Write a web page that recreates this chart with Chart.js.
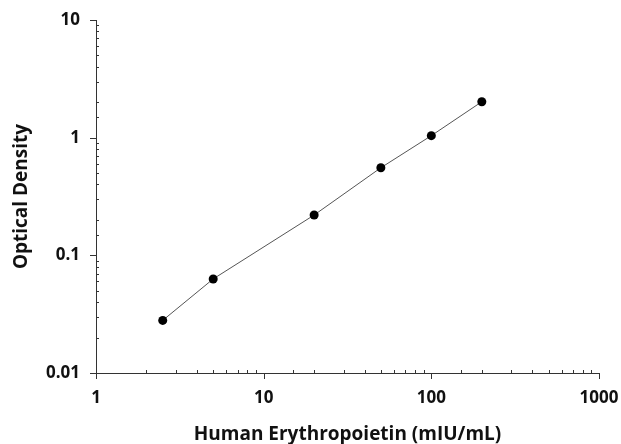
<!DOCTYPE html>
<html>
<head>
<meta charset="utf-8">
<script src="https://cdn.jsdelivr.net/npm/chart.js@4.4.1/dist/chart.umd.min.js"></script>
<style>
  body { margin: 0; background: #fff; }
  #wrap { width: 621px; height: 444px; }
</style>
</head>
<body>
<div id="wrap"><canvas id="od-chart"></canvas></div>
<script>
  // standard curve data
  const concentration = [2.5, 5, 20, 50, 100, 200];
  const opticalDensity = [0.028, 0.063, 0.22, 0.555, 1.04, 2.02];

  const xTitle = 'Human Erythropoietin (mIU/mL)';
  const yTitle = 'Optical Density';

  const isDecade = function(v) {
    const l = Math.log10(v);
    return Math.abs(l - Math.round(l)) < 1e-9;
  };

  // major ticks outside, minor ticks inside
  const logTicks = {
    id: 'logTicks',
    afterDraw(chart) {
      const ctx = chart.ctx;
      const xs = chart.scales.x;
      const ys = chart.scales.y;
      ctx.save();
      ctx.strokeStyle = '#333';
      ctx.lineWidth = 1;
      ctx.beginPath();
      xs.ticks.forEach(function(t) {
        const px = Math.round(xs.getPixelForValue(t.value)) + 0.5;
        const y0 = xs.top;
        if (isDecade(t.value)) {
          ctx.moveTo(px, y0); ctx.lineTo(px, y0 + 6);
        } else {
          ctx.moveTo(px, y0); ctx.lineTo(px, y0 - 3);
        }
      });
      ys.ticks.forEach(function(t) {
        const py = Math.round(ys.getPixelForValue(t.value)) + 0.5;
        const x0 = ys.right;
        if (isDecade(t.value)) {
          ctx.moveTo(x0, py); ctx.lineTo(x0 - 6, py);
        } else {
          ctx.moveTo(x0, py); ctx.lineTo(x0 + 3, py);
        }
      });
      ctx.stroke();
      ctx.restore();
    }
  };

  const tickFont = { family: 'Open Sans', size: 17, weight: 'bold' };
  const titleFont = { family: 'Open Sans', size: 19, weight: 'bold', lineHeight: 1 };

  new Chart(document.getElementById('od-chart'), {
    type: 'scatter',
    data: {
      datasets: [{
        label: 'EPO',
        data: concentration.map(function(c, i) { return { x: c, y: opticalDensity[i] }; }),
        showLine: true,
        borderColor: '#555',
        borderWidth: 1,
        backgroundColor: '#000',
        pointBackgroundColor: '#000',
        pointBorderWidth: 0,
        pointRadius: 4.5
      }]
    },
    options: {
      responsive: true,
      maintainAspectRatio: false,
      animation: false,
      layout: { padding: { top: 20, right: 22, bottom: 0, left: 0 } },
      plugins: {
        legend: { display: false },
        tooltip: { enabled: false }
      },
      scales: {
        x: {
          type: 'logarithmic',
          min: 1,
          max: 1000,
          grid: { display: false, drawTicks: false },
          border: { display: true, color: '#333', width: 1 },
          ticks: {
            autoSkip: false,
            maxRotation: 0,
            padding: 15,
            color: '#111',
            font: tickFont,
            callback: function(v) { return isDecade(v) ? String(v) : ''; }
          },
          title: { display: true, text: xTitle, color: '#111', font: titleFont, padding: { top: 0, bottom: 0 } },
          afterFit: function(s) { s.height = 71; s.paddingRight = 0; s.paddingLeft = 0; }
        },
        y: {
          type: 'logarithmic',
          min: 0.01,
          max: 10,
          grid: { display: false, drawTicks: false },
          border: { display: true, color: '#333', width: 1 },
          ticks: {
            autoSkip: false,
            padding: 16,
            color: '#111',
            font: tickFont,
            callback: function(v) { return isDecade(v) ? String(v) : ''; }
          },
          title: { display: true, text: yTitle, color: '#111', font: titleFont, padding: { top: 12, bottom: 0 } },
          afterFit: function(s) { s.width = 96; s.paddingTop = 0; s.paddingBottom = 0; }
        }
      }
    },
    plugins: [logTicks]
  });
</script>
</body>
</html>
